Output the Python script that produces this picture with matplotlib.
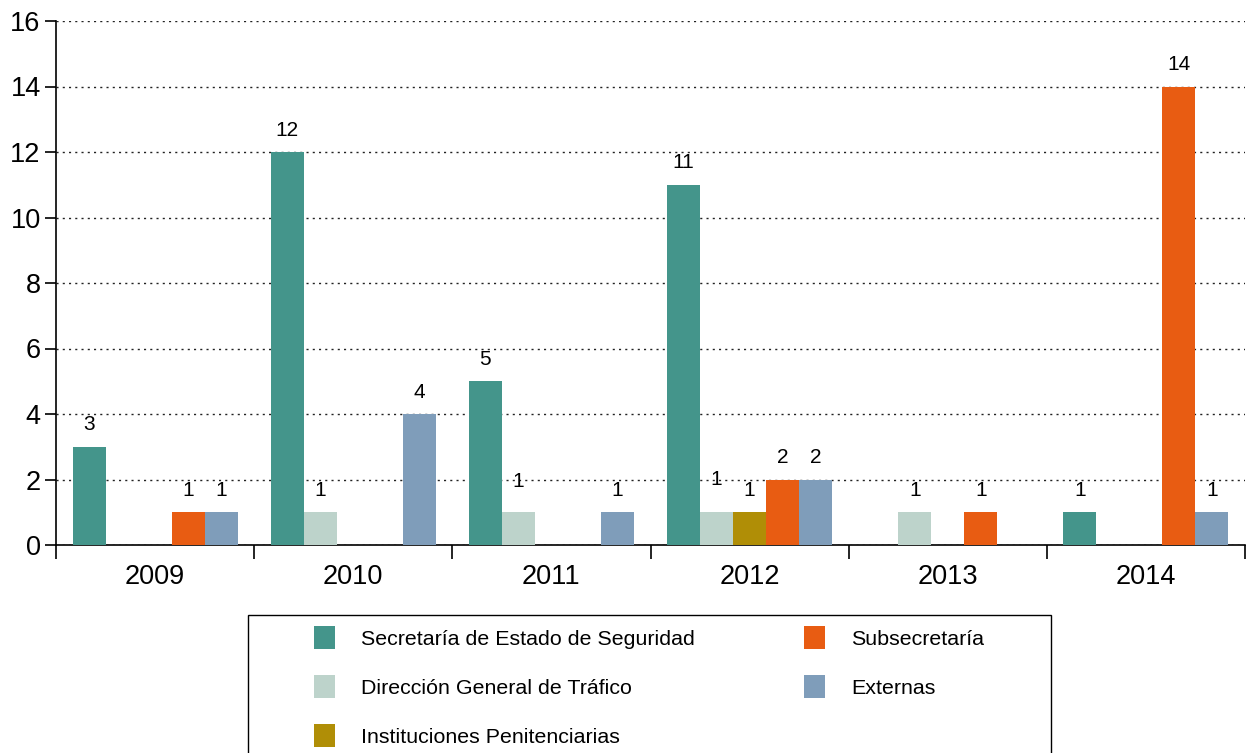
import matplotlib
matplotlib.use("Agg")
import matplotlib.pyplot as plt
from matplotlib.patches import Rectangle
import numpy as np

years = ["2009", "2010", "2011", "2012", "2013", "2014"]
series = [
    "Secretaría de Estado de Seguridad",
    "Dirección General de Tráfico",
    "Instituciones Penitenciarias",
    "Subsecretaría",
    "Externas",
]
secretaria = [3, 12, 5, 11, 0, 1]
direccion = [0, 1, 1, 1, 1, 0]
instituciones = [0, 0, 0, 1, 0, 0]
subsecretaria = [1, 0, 0, 2, 1, 14]
externas = [1, 4, 1, 2, 0, 1]
values = [secretaria, direccion, instituciones, subsecretaria, externas]
colors = ["#44958b", "#bdd3cb", "#b08e06", "#e85c12", "#7f9dba"]

# a few labels sit a little higher in the original
label_lift = {(1, 2): 6, (1, 3): 8}

plt.rcParams["font.family"] = ["Liberation Sans", "DejaVu Sans"]

W, H = 1249, 753
fig = plt.figure(figsize=(W / 100, H / 100), dpi=100)
ax = fig.add_axes([56 / W, 1 - 545 / H, (1245 - 56) / W, (545 - 21) / H])

width = 1 / 6
x = np.arange(len(years))
handles = []
for i, (name, vals, col) in enumerate(zip(series, values, colors)):
    pos = x + 1 / 12 + i * width + width / 2
    bars = ax.bar(pos, vals, width=width, color=col, label=name, zorder=3)
    handles.append(bars)
    for j, (p, v) in enumerate(zip(pos, vals)):
        if v == 0:
            continue
        ax.annotate(str(v), (p, v), xytext=(0, 9 + label_lift.get((i, j), 0)),
                    textcoords="offset points", ha="center", va="bottom",
                    fontsize=15, zorder=4)

ax.set_xlim(0, len(years))
ax.set_ylim(0, 16)
ax.set_yticks(range(0, 17, 2))
ax.set_xticks(range(0, len(years) + 1))
ax.set_xticklabels([])
ax.set_xticks(x + 0.5, minor=True)
ax.set_xticklabels(years, minor=True)
ax.tick_params(axis="x", which="major", length=10, width=1.2, direction="out")
ax.tick_params(axis="x", which="minor", length=0, pad=14, labelsize=19.5)
ax.tick_params(axis="y", length=8, width=1.2, labelsize=19.5, pad=3)
ax.yaxis.grid(True, linestyle=(0, (1.5, 3)), color="#222222", linewidth=1, zorder=0)
for s in ["top", "right"]:
    ax.spines[s].set_visible(False)
ax.spines["left"].set_linewidth(1.2)
ax.spines["bottom"].set_linewidth(1.2)

# legend frame runs off the bottom of the picture
fig.patches.append(Rectangle((248 / W, -0.05), (1051 - 248) / W, 0.05 + 1 - 615 / H,
                             transform=fig.transFigure, fill=False,
                             edgecolor="black", linewidth=1.0))
fig.legend(handles=handles, loc="upper left", ncol=2,
           bbox_to_anchor=(314 / W, 1 - 626 / H),
           fontsize=15.4, frameon=False,
           handlelength=1.0, handleheight=1.3, handletextpad=1.2,
           labelspacing=1.2, borderpad=0, borderaxespad=0,
           columnspacing=5.1)

fig.savefig("out.png", dpi=100)
